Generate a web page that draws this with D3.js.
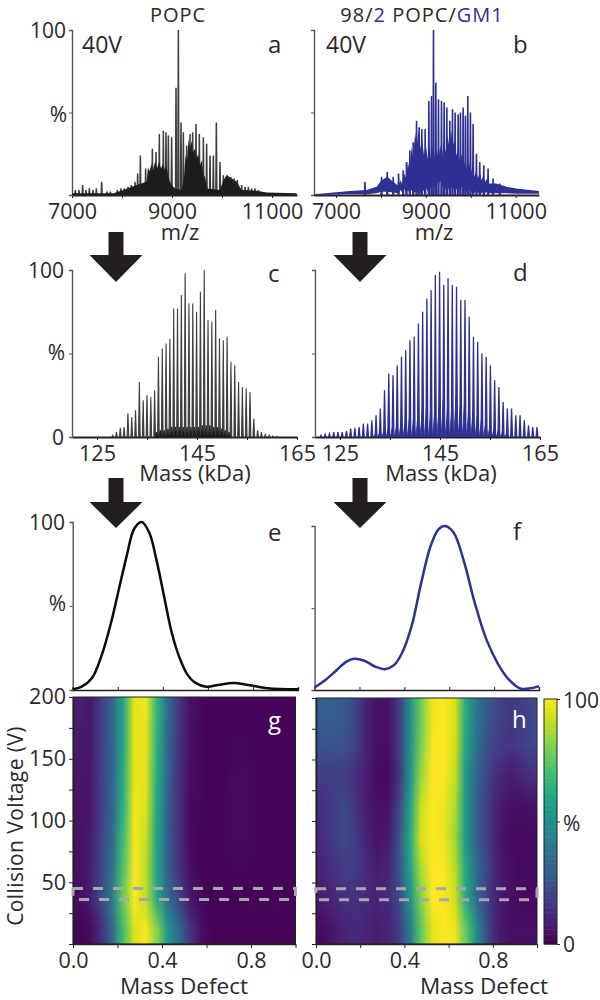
<!DOCTYPE html>
<html>
<head>
<meta charset="utf-8">
<script src="https://cdn.jsdelivr.net/npm/d3@7"></script>
<style>
  html, body { margin: 0; background: #fff; }
  text { font-family: "Open Sans", sans-serif; fill: #2b2829; }
  .soft { filter: blur(0.45px); }
</style>
</head>
<body>
<script>
let width = 600;
let height = 1000;
let blue = '#2e3192';

// panel a, sticks and the dark lower envelope
let aStickMz = [7067, 7140, 7213, 7280, 7347, 7420, 7487, 7593, 7700, 7767, 7907, 7980, 8047, 8120, 8187, 8260, 8313, 8367, 8473, 8540, 8607, 8680, 8747, 8827, 8880, 8927, 8993, 9080, 9127, 9180, 9227, 9293, 9360, 9413, 9480, 9547, 9627, 9693, 9760, 9827, 9887, 9960, 10027, 10107, 10173, 10240, 10307, 10393, 10460, 10527, 10593, 10660, 10727];
let aStickPct = [3, 3, 6, 3, 4, 3, 4, 8, 2, 2, 3, 4, 4, 5, 6, 8, 13, 24, 16, 15, 28, 26, 37, 39, 38, 36, 35, 65, 100, 44, 38, 30, 37, 38, 43, 37, 35, 31, 24, 24, 44, 20, 12, 12, 11, 10, 9, 6, 5, 5, 4, 4, 3];
let aEnvMz = [7000, 7827, 8027, 8293, 8493, 8520, 8550, 8590, 8620, 8660, 8700, 8740, 8780, 8820, 8860, 8890, 8927, 8960, 8993, 9060, 9193, 9240, 9270, 9300, 9330, 9360, 9390, 9420, 9460, 9490, 9527, 9560, 9593, 9630, 9660, 9700, 9960, 10027, 10093, 10193, 10293, 10393, 10727, 10893, 11493];
let aEnvPct = [1, 1, 3, 6, 8, 17, 14, 19, 15, 20, 16, 20, 16, 19, 15, 18, 11, 8, 6, 4, 3, 10, 24, 20, 34, 27, 33, 26, 28, 22, 25, 18, 21, 12, 11, 4, 3, 9, 12, 10, 8, 3, 2.5, 1.5, 1];

// panel b
let bStickMz = [7644, 8015, 8141, 8274, 8393, 8496, 8570, 8644, 8719, 8793, 8852, 8911, 8985, 9067, 9126, 9170, 9222, 9281, 9348, 9407, 9467, 9533, 9593, 9652, 9719, 9770, 9830, 9881, 9933, 9992, 10052, 10126, 10200, 10289, 10385, 10496, 10644];
let bStickPct = [8, 11, 14, 11, 13, 15, 20, 27, 32, 45, 41, 40, 40, 57, 60, 100, 68, 58, 57, 56, 53, 45, 52, 50, 49, 50, 53, 48, 60, 50, 43, 25, 20, 18, 16, 10, 7];
let bEnvMz = [6511, 6941, 7311, 7681, 7904, 8015, 8141, 8274, 8360, 8400, 8440, 8480, 8520, 8560, 8600, 8640, 8680, 8720, 8760, 8800, 8840, 8880, 8920, 8960, 9000, 9040, 9080, 9120, 9160, 9200, 9240, 9280, 9320, 9360, 9400, 9440, 9480, 9520, 9560, 9600, 9640, 9680, 9720, 9760, 9800, 9840, 9880, 9920, 9960, 10000, 10040, 10080, 10120, 10160, 10200, 10240, 10280, 10320, 10360, 10400, 10570, 10793, 11015, 11311, 11518];
let bEnvPct = [0.5, 1.5, 2.5, 3, 5, 9, 11, 8, 6, 7, 9, 6, 13, 10, 20, 15, 29, 22, 38, 30, 40, 28, 33, 24, 30, 22, 30, 20, 32, 22, 28, 22, 30, 24, 32, 26, 36, 30, 40, 30, 34, 24, 28, 20, 25, 17, 22, 15, 20, 13, 18, 11, 15, 10, 14, 9, 12, 8, 10, 7, 7, 5, 4, 3, 2.5];
let bEnvLow = [0, 0.2, 0.5, 0.5, 1, 2, 2, 1.5, 1, 1, 3, 1, 4, 1, 3, 1, 3, 1, 2, 1, 3, 1, 4, 2, 5, 2, 6, 3, 8, 4, 9, 5, 9, 4, 8, 3, 6, 2, 5, 2, 6, 3, 6, 2, 5, 2, 4, 2, 4, 1, 3, 1, 3, 1, 2, 1, 2, 1, 2, 1, 1, 1, 0.8, 0.8, 0.8];

// panel c, evenly spaced charge states: first mass and spacing in kDa
let cStart = 128.13;
let cStep = 0.763;
let cPct = [1, 3, 5.5, 6, 14, 12, 16, 33, 22, 25, 24, 28, 48, 53, 56, 59, 77, 77, 85, 98, 80, 80, 75, 87, 100, 70, 69, 76, 59, 58, 60, 45, 43, 33, 30, 29, 27, 11, 4, 3, 1.5, 1, 0.5, 0.3];
let cSmallStart = 136.9;
let cSmallPct = [3, 4, 4, 5, 6, 6, 6, 6, 6, 6, 6, 6, 7, 7, 7, 6, 6, 5, 4, 3];

// panel d
let dStart = 121.2;
let dStep = 0.847;
let dPct = [1, 1.5, 2, 3, 3, 3, 3.5, 5, 5.5, 6, 8, 8, 10, 13, 17, 28, 38, 37, 43, 48, 52, 58, 60, 68, 75, 83, 88, 97, 99, 91, 95, 91, 90, 82, 82, 72, 60, 57, 50, 48, 43, 34, 30, 21, 17, 17, 13, 13, 10, 7, 6, 6];
let dSmallStart = 132.1;
let dSmallPct = [2, 3, 4, 5, 6, 7, 8, 9, 11, 11, 12, 14, 16, 15, 16, 18, 23, 17, 17, 24, 18, 19, 16, 15, 12, 10, 8, 6, 5, 4, 3, 2];

// panels e and f
let eDefect = [0, 0.04, 0.085, 0.127, 0.17, 0.205, 0.24, 0.273, 0.306, 0.34, 0.373, 0.407, 0.44, 0.475, 0.51, 0.543, 0.594, 0.645, 0.713, 0.78, 0.865, 1];
let ePct = [0.4, 2, 7, 20, 40, 60, 80, 96, 100, 93.6, 76.7, 54.8, 33.9, 18.9, 9, 4.4, 2, 3, 4.2, 3, 1, 0.4];
let fDefect = [0, 0.048, 0.099, 0.142, 0.176, 0.219, 0.27, 0.313, 0.355, 0.389, 0.432, 0.475, 0.517, 0.552, 0.581, 0.62, 0.663, 0.714, 0.765, 0.817, 0.868, 0.919, 0.962, 1];
let fPct = [1.6, 6.1, 12.2, 17.3, 19, 18, 14.3, 12.7, 15.3, 22.4, 38.8, 65.3, 87.8, 98, 100, 95.9, 79.6, 53, 31, 16, 6, 0.8, 1, 2.4];

// heat maps: rows from 200 V down to 0 V, 20 columns across the mass defect
let gRows = [
  [8, 6, 18, 32, 60, 96, 98, 66, 34, 16, 5, 2, 1, 1, 1, 1, 1, 1, 1, 1],
  [7, 6, 18, 32, 60, 96, 97, 64, 33, 15, 4, 2, 1, 1, 2, 2, 1, 1, 1, 1],
  [6, 6, 19, 32, 62, 97, 96, 62, 32, 14, 4, 2, 1, 1, 3, 3, 2, 1, 1, 1],
  [5, 6, 19, 33, 64, 98, 95, 60, 30, 13, 3, 2, 1, 2, 3, 3, 2, 1, 1, 1],
  [5, 7, 20, 34, 68, 99, 92, 58, 29, 13, 3, 1, 1, 2, 3, 3, 2, 1, 1, 1],
  [4, 8, 21, 38, 72, 100, 90, 58, 30, 15, 4, 1, 1, 1, 2, 2, 1, 1, 1, 1],
  [3, 8, 22, 42, 78, 100, 90, 62, 35, 20, 6, 2, 1, 1, 1, 1, 1, 1, 1, 1],
  [1, 3, 13, 34, 70, 94, 100, 82, 52, 34, 15, 4, 1, 1, 1, 1, 1, 1, 1, 1]
];
let hRows = [
  [30, 30, 28, 20, 10, 4, 5, 18, 50, 78, 98, 100, 95, 62, 38, 28, 20, 16, 18, 22],
  [26, 26, 25, 20, 10, 4, 4, 17, 50, 80, 99, 100, 94, 60, 36, 24, 18, 16, 18, 22],
  [18, 18, 18, 14, 8, 3, 3, 15, 52, 85, 100, 100, 92, 55, 32, 20, 12, 8, 10, 14],
  [14, 18, 22, 16, 8, 4, 5, 20, 58, 92, 100, 98, 88, 55, 30, 18, 8, 4, 4, 5],
  [12, 18, 22, 18, 10, 5, 7, 25, 62, 95, 100, 98, 86, 55, 30, 18, 7, 3, 3, 3],
  [10, 14, 18, 18, 12, 8, 10, 26, 58, 88, 100, 100, 90, 60, 34, 20, 8, 4, 3, 3],
  [8, 12, 14, 14, 12, 10, 12, 22, 50, 82, 100, 100, 94, 62, 35, 18, 8, 4, 3, 3],
  [3, 6, 10, 12, 10, 8, 10, 18, 42, 75, 96, 100, 98, 76, 48, 22, 8, 4, 4, 4]
];
let voltageWindow = [36, 45];

let mzTicks = [7000, 8000, 9000, 10000, 11000];
let mzLabels = [7000, 9000, 11000];
let massTicks = [125, 135, 145, 155, 165];
let massLabels = [125, 145, 165];
let defectTicks = [0, 0.2, 0.4, 0.6, 0.8, 1];
let defectLabels = [0, 0.4, 0.8];
let voltTicks = [0, 25, 50, 75, 100, 125, 150, 175, 200];
let voltLabels = [50, 100, 150, 200];
let pctTicks = [0, 50, 100];

let svg = d3.select('body').append('svg')
  .attr('width', width)
  .attr('height', height)
  .attr('viewBox', `0 0 ${width} ${height}`)
  .style('display', 'block');

let label = (x, y, str, size, anchor, color) =>
  svg.append('text')
    .attr('x', x).attr('y', y)
    .attr('text-anchor', anchor || 'middle')
    .style('font-size', `${size}px`)
    .style('fill', color || null)
    .text(str);

let styleAxis = (g, color) => {
  g.select('.domain').attr('stroke', color).attr('stroke-width', 1.4);
  g.selectAll('.tick line').attr('stroke', color).attr('stroke-width', 1);
  g.selectAll('text').style('font-size', '21.5px');
}

let spectrumAxes = (p, xDomain, xRange, ticks, labels) => {
  let x = d3.scaleLinear().domain(xDomain).range(xRange);
  let y = d3.scaleLinear().domain([0, 100]).range([p.bottom, p.top]);
  let gx = svg.append('g').attr('transform', `translate(0,${p.bottom})`)
    .call(d3.axisBottom(x).tickValues(ticks).tickSizeInner(3).tickSizeOuter(0)
      .tickPadding(p.pad)
      .tickFormat(d => labels.includes(d) ? d : ''));
  styleAxis(gx, '#222');
  gx.select('.domain').attr('stroke-width', 1.8);
  let gy = svg.append('g').attr('transform', `translate(${xRange[0]},0)`)
    .call(d3.axisLeft(y).tickValues(pctTicks).tickSize(3).tickFormat(''));
  styleAxis(gy, '#555');
  return {x, y};
}

let drawSticks = (g, x, y, mz, pct, halfWidth, color, strokeWidth) => {
  let line = d3.line().x(d => x(d[0])).y(d => y(d[1]));
  g.append('g').selectAll('path').data(mz.map((m, i) => [m, pct[i]])).join('path')
    .attr('d', d => line([[d[0] - halfWidth, 0], [d[0], d[1]], [d[0] + halfWidth, 0]]))
    .attr('fill', color)
    .attr('stroke', color)
    .attr('stroke-width', strokeWidth)
    .attr('stroke-linejoin', 'miter');
}

let drawEnvelope = (g, x, y, mz, pct, low, color) => {
  let area = d3.area().x(d => x(d[0])).y1(d => y(d[1])).y0(d => y(d[2]));
  g.append('path')
    .datum(mz.map((m, i) => [m, pct[i], low ? low[i] : 0]))
    .attr('d', area)
    .attr('fill', color);
}

let evenlySpaced = (start, step, pct) => pct.map((_, i) => start + i * step);

// a
let panelA = spectrumAxes({top: 30, bottom: 195, pad: 6}, [7000, 11500], [72, 297], mzTicks, mzLabels);
let softA = svg.append('g').attr('class', 'soft');
drawSticks(softA, panelA.x, panelA.y, aStickMz, aStickPct, 10, '#3f3d3e', 1.5);
drawEnvelope(softA, panelA.x, panelA.y, aEnvMz, aEnvPct, null, '#1f1c1d');

// b
let panelB = spectrumAxes({top: 30, bottom: 195, pad: 6}, [6511, 11518], [314, 539], mzTicks, mzLabels);
let softB = svg.append('g').attr('class', 'soft');
drawEnvelope(softB, panelB.x, panelB.y, bEnvMz, bEnvPct, bEnvLow, blue);
drawSticks(softB, panelB.x, panelB.y, bStickMz, bStickPct, 10, blue, 1.6);

// c
let panelC = spectrumAxes({top: 270, bottom: 437, pad: 6}, [120, 165], [72, 297], massTicks, massLabels);
let softC = svg.append('g').attr('class', 'soft');
drawSticks(softC, panelC.x, panelC.y, evenlySpaced(cStart, cStep, cPct), cPct, 0.16, '#3f3d3e', 1.1);
drawSticks(softC, panelC.x, panelC.y, evenlySpaced(cSmallStart, cStep, cSmallPct), cSmallPct, 0.3, '#1f1c1d', 0.8);

// d
let panelD = spectrumAxes({top: 270, bottom: 437, pad: 6}, [120, 165], [315, 540], massTicks, massLabels);
let softD = svg.append('g').attr('class', 'soft');
drawSticks(softD, panelD.x, panelD.y, evenlySpaced(dStart, dStep, dPct), dPct, 0.18, blue, 1.3);
drawSticks(softD, panelD.x, panelD.y, evenlySpaced(dSmallStart, dStep, dSmallPct), dSmallPct, 0.42, blue, 0.8);

// e, f
let drawDefectCurve = (p, xRange, defect, pct, color) => {
  let x = d3.scaleLinear().domain([0, 1]).range(xRange);
  let y = d3.scaleLinear().domain([0, 100]).range([p.bottom, p.top]);
  let gx = svg.append('g').attr('transform', `translate(0,${p.bottom})`)
    .call(d3.axisTop(x).tickValues(defectTicks).tickSize(3).tickFormat(''));
  styleAxis(gx, '#222');
  let gy = svg.append('g').attr('transform', `translate(${xRange[0]},0)`)
    .call(d3.axisLeft(y).tickValues(pctTicks).tickSize(3).tickFormat(''));
  styleAxis(gy, '#555');
  let line = d3.line().x((d, i) => x(defect[i])).y(d => y(d)).curve(d3.curveCatmullRom);
  svg.append('path').attr('class', 'soft').datum(pct)
    .attr('d', line)
    .attr('fill', 'none')
    .attr('stroke', color)
    .attr('stroke-width', 2.5);
}
drawDefectCurve({top: 522, bottom: 690}, [72.7, 298], eDefect, ePct, '#0d0b0c');
drawDefectCurve({top: 526, bottom: 690}, [314.6, 539], fDefect, fPct, blue);

// g, h
let color = d3.scaleSequential(d3.interpolateViridis).domain([0, 100]);

// small bitmap of the cells, the browser smooths it when it stretches it over the plot
let bitmap = (rows, colorOf) => {
  let canvas = document.createElement('canvas');
  canvas.width = rows[0].length;
  canvas.height = rows.length;
  let ctx = canvas.getContext('2d');
  rows.forEach((row, r) => row.forEach((v, c) => {
    ctx.fillStyle = colorOf(v);
    ctx.fillRect(c, r, 1, 1);
  }));
  return canvas.toDataURL();
}

let drawHeat = (rows, xRange, yRange, showVoltLabels) => {
  let x = d3.scaleLinear().domain([0, 1]).range(xRange);
  let y = d3.scaleLinear().domain([0, 200]).range(yRange);
  svg.append('image')
    .attr('href', bitmap(rows, color))
    .attr('x', x(0)).attr('y', y(200))
    .attr('width', x(1) - x(0)).attr('height', y(0) - y(200))
    .attr('preserveAspectRatio', 'none');
  let gx = svg.append('g').attr('transform', `translate(0,${yRange[0]})`)
    .call(d3.axisBottom(x).tickValues(defectTicks).tickSize(4).tickSizeOuter(0).tickPadding(5)
      .tickFormat(d => defectLabels.includes(d) ? d3.format('.1f')(d) : ''));
  styleAxis(gx, '#222');
  let gy = svg.append('g').attr('transform', `translate(${xRange[0]},0)`)
    .call(d3.axisLeft(y).tickValues(voltTicks).tickSize(4).tickSizeOuter(0).tickPadding(3)
      .tickFormat(d => showVoltLabels && voltLabels.includes(d) ? d : ''));
  styleAxis(gy, '#222');
  svg.append('rect')
    .attr('x', x(0)).attr('y', y(200))
    .attr('width', x(1) - x(0)).attr('height', y(0) - y(200))
    .attr('fill', 'none').attr('stroke', '#222').attr('stroke-width', 1);
  // dashed window at 40 V
  svg.append('rect')
    .attr('x', x(0)).attr('y', y(voltageWindow[1]))
    .attr('width', x(1) - x(0)).attr('height', y(voltageWindow[0]) - y(voltageWindow[1]))
    .attr('fill', 'none')
    .attr('stroke', '#a8a6aa')
    .attr('stroke-width', 3)
    .attr('stroke-dasharray', '10 10');
}
drawHeat(gRows, [73, 295.5], [944, 697], true);
drawHeat(hRows, [316, 537], [944, 698], false);

// colour bar
let barValues = d3.range(0, 101);
let barY = d3.scaleLinear().domain([0, 100]).range([944, 699]);
svg.append('g').selectAll('rect').data(barValues.slice(0, -1)).join('rect')
  .attr('x', 544).attr('width', 13)
  .attr('y', d => barY(d + 1)).attr('height', d => barY(d) - barY(d + 1) + 0.5)
  .attr('fill', d => color(d));
svg.append('rect').attr('x', 544).attr('y', 699).attr('width', 13).attr('height', 245)
  .attr('fill', 'none').attr('stroke', '#222').attr('stroke-width', 1);
let barAxis = svg.append('g').attr('transform', 'translate(557,0)')
  .call(d3.axisRight(barY).tickValues(pctTicks).tickSize(3).tickFormat(''));
styleAxis(barAxis, '#222');
barAxis.select('.domain').remove();

// arrows between the rows
let arrow = (cx, top, neck, tip) => {
  let points = [[cx - 7.5, top], [cx + 7.5, top], [cx + 7.5, neck], [cx + 26.5, neck], [cx, tip], [cx - 26.5, neck], [cx - 7.5, neck]];
  svg.append('path').attr('d', d3.line()(points) + 'Z').attr('fill', '#231f20');
}
arrow(116, 232, 255, 282);
arrow(360, 232, 255, 282);
arrow(116, 478, 502, 528);
arrow(360, 478, 502, 528);

// titles
label(178, 21.5, 'POPC', 20).style('letter-spacing', '1px');
let title = svg.append('text').attr('x', 422).attr('y', 21.5).attr('text-anchor', 'middle')
  .style('font-size', '20px').style('letter-spacing', '1px');
title.append('tspan').text('98/');
title.append('tspan').style('fill', blue).text('2');
title.append('tspan').text(' POPC/');
title.append('tspan').style('fill', blue).text('GM1');

// axis words
label(180, 240, 'm/z', 22);
label(434, 240, 'm/z', 22);
label(195, 481, 'Mass (kDa)', 22);
label(441, 481, 'Mass (kDa)', 22);
label(184, 993.5, 'Mass Defect', 22.5);
label(484, 993.5, 'Mass Defect', 22.5);
svg.append('text')
  .attr('transform', 'translate(23,826) rotate(-90)')
  .attr('text-anchor', 'middle')
  .style('font-size', '21px')
  .style('letter-spacing', '0.4px')
  .text('Collision Voltage (V)');

// y labels
label(66, 38, '100', 21, 'end');
label(67, 122, '%', 21, 'end');
label(64, 278, '100', 21, 'end');
label(65, 360, '%', 21, 'end');
label(64, 445, '0', 21, 'end');
label(65, 530, '100', 21, 'end');
label(66, 611, '%', 21, 'end');

// colour bar labels
label(563, 708, '100', 21, 'start');
label(563, 831, '%', 21, 'start');
label(563, 952, '0', 21, 'start');

// panel marks
label(82, 53, '40V', 23, 'start');
label(326, 53, '40V', 23, 'start');
label(268, 53, 'a', 24, 'start');
label(513, 53, 'b', 24, 'start');
label(268, 282, 'c', 24, 'start');
label(513, 281, 'd', 24, 'start');
label(268, 541, 'e', 24, 'start');
label(513, 540, 'f', 24, 'start');
label(268, 729, 'g', 24, 'start', '#fff');
label(512, 728, 'h', 24, 'start', '#fff');
</script>
</body>
</html>
